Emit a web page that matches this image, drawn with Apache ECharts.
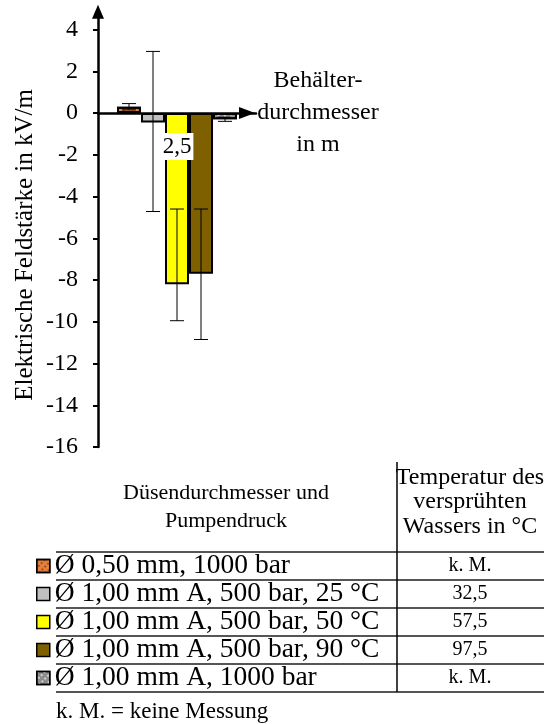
<!DOCTYPE html>
<html><head><meta charset="utf-8">
<script src="https://cdn.jsdelivr.net/npm/echarts@6/dist/echarts.min.js"></script>
<style>html,body{margin:0;padding:0;background:#fff}#c{width:544px;height:724px}</style>
</head><body><div id="c"></div>
<script>
const categories = ['2,5'];
const seriesNames = ['Ø 0,50 mm, 1000 bar', 'Ø 1,00 mm A, 500 bar, 25 °C', 'Ø 1,00 mm A, 500 bar, 50 °C', 'Ø 1,00 mm A, 500 bar, 90 °C', 'Ø 1,00 mm A, 1000 bar'];
const barValues = [0.3, -0.45, -8.2, -7.7, -0.3];
const errLow = [0.15, -4.72, -9.95, -10.85, -0.4];
const errHigh = [0.45, 2.95, -4.6, -4.6, -0.2];
const tempValues = ['k. M.', '32,5', '57,5', '97,5', 'k. M.'];
const yTicks = [-16, -14, -12, -10, -8, -6, -4, -2, 0, 2, 4];
const colors = ['#e4803c', '#c0c0c0', '#ffff00', '#7f6000', '#8c8c8c'];

const FONT = 'Liberation Serif';
const barW = 24;
const n = seriesNames.length;
const tableTop = 552, rowH = 28, tableLeft = 56, divX = 397;
const yMin = -16, yMax = 4.8;
const gridTop = 12.8, gridH = 434.2;
// distance from grid bottom up to the value 0 (where the category axis line sits)
const zeroFromBottom = (0 - yMin) / (yMax - yMin) * gridH;

const series = seriesNames.map((name, i) => ({
  type: 'bar', name: name, data: [barValues[i]], barWidth: barW, barGap: '0%',
  itemStyle: Object.assign({ color: colors[i], borderColor: '#000', borderWidth: 2 },
    i === 0 ? { decal: { symbol: 'rect', color: 'rgba(110,40,0,0.55)', dashArrayX: [[2, 2]], dashArrayY: [2, 3], rotation: -Math.PI / 4, symbolSize: 1 } } :
    i === 4 ? { decal: { symbol: 'rect', color: 'rgba(255,255,255,0.6)', dashArrayX: [[2, 2]], dashArrayY: [2, 3], rotation: -Math.PI / 4, symbolSize: 1 } } : {}),
  emphasis: { disabled: true }, z: 2
}));
series.push({
  type: 'custom', name: 'err', z: 5, silent: true,
  data: errLow.map((l, i) => [0, l, errHigh[i], i]),
  encode: { x: 0, y: [1, 2] },
  renderItem: function (params, api) {
    const lo = api.coord([api.value(0), api.value(1)]);
    const hi = api.coord([api.value(0), api.value(2)]);
    const i = api.value(3);
    const x = lo[0] + (i - (n - 1) / 2) * barW;
    const cap = 7;
    const st = { stroke: '#000', lineWidth: 1 };
    return { type: 'group', children: [
      { type: 'line', shape: { x1: x, y1: lo[1], x2: x, y2: hi[1] }, style: st },
      { type: 'line', shape: { x1: x - cap, y1: lo[1], x2: x + cap, y2: lo[1] }, style: st },
      { type: 'line', shape: { x1: x - cap, y1: hi[1], x2: x + cap, y2: hi[1] }, style: st }
    ] };
  }
});

const graphics = [];
for (let r = 0; r <= n; r++) {
  graphics.push({ type: 'line', shape: { x1: tableLeft, y1: tableTop + r * rowH, x2: 544, y2: tableTop + r * rowH }, style: { stroke: '#555', lineWidth: 2 } });
}
graphics.push({ type: 'line', shape: { x1: divX, y1: 462, x2: divX, y2: tableTop + n * rowH }, style: { stroke: '#000', lineWidth: 1.5 } });
tempValues.forEach((t, r) => {
  graphics.push({ type: 'text', x: 470, y: tableTop + r * rowH + rowH / 2, style: { text: t, fontFamily: FONT, fontSize: 20, fill: '#000', align: 'center', verticalAlign: 'middle' } });
});
graphics.push({ type: 'text', x: 226, y: 507, style: { text: 'Düsendurchmesser und\nPumpendruck', fontFamily: FONT, fontSize: 22, lineHeight: 28, fill: '#000', align: 'center', verticalAlign: 'middle' } });
graphics.push({ type: 'text', x: 470, y: 502, style: { text: 'Temperatur des\nversprühten\nWassers in °C', fontFamily: FONT, fontSize: 24, lineHeight: 24.5, fill: '#000', align: 'center', verticalAlign: 'middle' } });
graphics.push({ type: 'text', x: tableLeft, y: 712, style: { text: 'k. M. = keine Messung', fontFamily: FONT, fontSize: 23, fill: '#000', align: 'left', verticalAlign: 'middle' } });

const chart = echarts.init(document.getElementById('c'), null, { renderer: 'canvas' });
chart.setOption({
  animation: false,
  backgroundColor: '#fff',
  grid: { left: 98, top: gridTop, width: 158, height: gridH, outerBoundsMode: 'none', containLabel: false },
  xAxis: {
    type: 'category', data: categories, z: 10,
    axisLine: { onZero: true, lineStyle: { color: '#000', width: 2.5 }, symbol: ['none', 'triangle'], symbolSize: [12, 16], symbolOffset: [0, -9] },
    axisTick: { show: false },
    axisLabel: { margin: 20 - zeroFromBottom, fontFamily: FONT, fontSize: 23, color: '#000', backgroundColor: '#fff', padding: [2, 2, 2, 2] },
    name: 'Behälter-\ndurchmesser\nin m', nameLocation: 'end', nameGap: 62,
    nameTextStyle: { fontFamily: FONT, fontSize: 24, lineHeight: 32, color: '#000', align: 'center', verticalAlign: 'middle' }
  },
  yAxis: {
    type: 'value', min: yMin, max: yMax, z: 10,
    axisLine: { show: true, lineStyle: { color: '#000', width: 2.5 }, symbol: ['none', 'triangle'], symbolSize: [12, 14], symbolOffset: [0, 1] },
    axisTick: { show: true, length: 5, lineStyle: { width: 2, color: '#000' }, customValues: yTicks },
    axisLabel: { margin: 20, fontFamily: FONT, fontSize: 24, color: '#000', customValues: yTicks },
    splitLine: { show: false },
    name: 'Elektrische Feldstärke in kV/m', nameLocation: 'middle', nameGap: 60,
    nameTextStyle: { fontFamily: FONT, fontSize: 25, color: '#000', padding: [0, 30, 0, 0] }
  },
  legend: {
    data: seriesNames, orient: 'vertical', left: 36, top: tableTop, itemGap: 0, padding: 0,
    itemWidth: 13, itemHeight: 13, icon: 'rect', selectedMode: false,
    itemStyle: { borderColor: '#000', borderWidth: 1.5 },
    textStyle: { fontFamily: FONT, fontSize: 27.5, lineHeight: rowH, color: '#000' }
  },
  graphic: graphics,
  series: series
});
</script></body></html>
